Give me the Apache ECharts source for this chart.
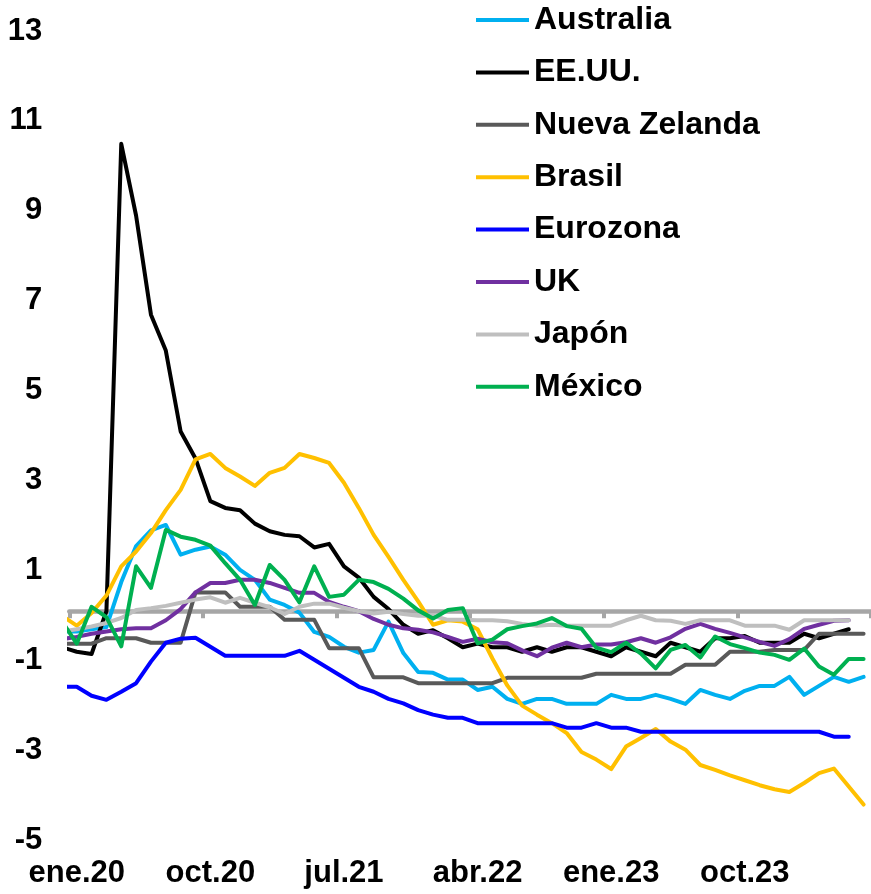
<!DOCTYPE html>
<html><head><meta charset="utf-8">
<script src="https://cdn.jsdelivr.net/npm/echarts@6/dist/echarts.min.js"></script>
<style>html,body{margin:0;padding:0;background:#fff}#c{width:871px;height:894px}</style>
</head><body><div id="c"></div><script>
// Month categories (first entry dic.19 is partly clipped by the axis start)
const months = ["dic.19",
 "ene.20","feb.20","mar.20","abr.20","may.20","jun.20","jul.20","ago.20","sep.20","oct.20","nov.20","dic.20",
 "ene.21","feb.21","mar.21","abr.21","may.21","jun.21","jul.21","ago.21","sep.21","oct.21","nov.21","dic.21",
 "ene.22","feb.22","mar.22","abr.22","may.22","jun.22","jul.22","ago.22","sep.22","oct.22","nov.22","dic.22",
 "ene.23","feb.23","mar.23","abr.23","may.23","jun.23","jul.23","ago.23","sep.23","oct.23","nov.23","dic.23",
 "ene.24","feb.24","mar.24","abr.24","may.24","jun.24"];

const yTicks = [-5, -3, -1, 1, 3, 5, 7, 9, 11, 13];

const australia = [-0.45,
 -0.45,-0.4,-0.35,0.65,1.45,1.8,1.92,1.26,1.37,1.44,1.26,0.92,
 0.7,0.26,0.14,-0.03,-0.46,-0.57,-0.79,-0.92,-0.86,-0.23,-0.93,-1.35,
 -1.37,-1.52,-1.52,-1.75,-1.68,-1.95,-2.06,-1.95,-1.95,-2.06,-2.06,-2.06,
 -1.86,-1.95,-1.95,-1.86,-1.95,-2.06,-1.75,-1.86,-1.95,-1.77,-1.66,-1.66,
 -1.46,-1.86,-1.66,-1.46,-1.57,-1.46];
const eeuu = [-0.8,
 -0.9,-0.95,0.0,10.4,8.8,6.6,5.8,4.0,3.4,2.45,2.3,2.25,
 1.95,1.78,1.7,1.67,1.42,1.5,1.0,0.75,0.32,0.05,-0.3,-0.5,
 -0.42,-0.6,-0.8,-0.72,-0.8,-0.8,-0.9,-0.8,-0.9,-0.8,-0.8,-0.9,
 -1.0,-0.8,-0.9,-1.0,-0.7,-0.8,-0.9,-0.6,-0.6,-0.55,-0.7,-0.7,
 -0.7,-0.5,-0.6,-0.5,-0.4,null];
const nuevaZelanda = [-0.72,
 -0.72,-0.72,-0.6,-0.6,-0.6,-0.7,-0.7,-0.7,0.42,0.42,0.42,0.1,
 0.1,0.1,-0.19,-0.19,-0.19,-0.82,-0.82,-0.82,-1.47,-1.47,-1.47,-1.6,
 -1.6,-1.6,-1.6,-1.6,-1.6,-1.48,-1.48,-1.48,-1.48,-1.48,-1.48,-1.39,
 -1.39,-1.39,-1.39,-1.39,-1.39,-1.19,-1.19,-1.19,-0.9,-0.9,-0.9,-0.86,
 -0.86,-0.86,-0.5,-0.5,-0.5,-0.5];
const brasil = [-0.1,
 -0.32,-0.04,0.35,1.0,1.33,1.74,2.25,2.7,3.38,3.5,3.19,3.0,
 2.79,3.08,3.19,3.5,3.41,3.3,2.86,2.3,1.7,1.21,0.7,0.22,
 -0.3,-0.2,-0.23,-0.4,-1.05,-1.65,-2.1,-2.3,-2.49,-2.71,-3.13,-3.3,
 -3.51,-3.01,-2.82,-2.62,-2.9,-3.08,-3.42,-3.53,-3.65,-3.76,-3.87,-3.96,
 -4.02,-3.82,-3.6,-3.5,-3.9,-4.3];
const eurozona = [-1.68,
 -1.68,-1.88,-1.97,-1.79,-1.6,-1.12,-0.7,-0.61,-0.59,-0.79,-0.99,-0.99,
 -0.99,-0.99,-0.99,-0.88,-1.08,-1.28,-1.48,-1.68,-1.79,-1.95,-2.05,-2.2,
 -2.3,-2.37,-2.37,-2.49,-2.49,-2.49,-2.49,-2.49,-2.49,-2.59,-2.59,-2.49,
 -2.59,-2.59,-2.68,-2.68,-2.68,-2.68,-2.68,-2.68,-2.68,-2.68,-2.68,-2.68,
 -2.68,-2.68,-2.68,-2.79,-2.79,null];
const uk = [-0.62,
 -0.57,-0.5,-0.45,-0.4,-0.38,-0.38,-0.2,0.05,0.42,0.63,0.63,0.7,
 0.7,0.63,0.52,0.41,0.41,0.21,0.1,0.0,-0.17,-0.3,-0.38,-0.41,
 -0.47,-0.57,-0.68,-0.61,-0.69,-0.71,-0.87,-1.0,-0.81,-0.7,-0.8,-0.74,
 -0.74,-0.69,-0.6,-0.7,-0.58,-0.39,-0.28,-0.39,-0.48,-0.58,-0.68,-0.77,
 -0.62,-0.39,-0.3,-0.21,-0.2,null];
const japon = [-0.45,
 -0.4,-0.34,-0.26,-0.15,0.03,0.07,0.12,0.19,0.26,0.31,0.19,0.3,
 0.19,0.09,-0.06,0.1,0.17,0.17,0.08,0.0,-0.05,-0.01,-0.06,-0.1,
 -0.1,-0.19,-0.19,-0.2,-0.2,-0.22,-0.28,-0.32,-0.3,-0.32,-0.32,-0.32,
 -0.32,-0.2,-0.1,-0.2,-0.21,-0.28,-0.2,-0.2,-0.2,-0.32,-0.32,-0.32,
 -0.41,-0.2,-0.2,-0.2,-0.2,null];
const mexico = [-0.22,
 -0.72,0.1,-0.13,-0.78,1.0,0.52,1.81,1.66,1.59,1.46,1.07,0.7,
 0.14,1.03,0.7,0.2,1.0,0.32,0.37,0.7,0.65,0.5,0.28,0.02,
 -0.16,0.03,0.07,-0.71,-0.63,-0.4,-0.33,-0.27,-0.15,-0.33,-0.39,-0.81,
 -0.91,-0.7,-0.94,-1.27,-0.86,-0.75,-1.03,-0.56,-0.73,-0.82,-0.92,-0.97,
 -1.08,-0.83,-1.23,-1.41,-1.06,-1.06];

const seriesNames = ["Australia","EE.UU.","Nueva Zelanda","Brasil","Eurozona","UK","Japón","México"];
const seriesValues = [australia, eeuu, nuevaZelanda, brasil, eurozona, uk, japon, mexico];
const seriesColors = ["#00B0F0","#000000","#595959","#FFC000","#0000FF","#7030A0","#BFBFBF","#00B050"];

const FONT = '"Liberation Sans", Arial, sans-serif';
const labelMonths = months.slice(1);

const chart = echarts.init(document.getElementById('c'), null, {renderer: 'canvas'});
const series = seriesNames.map((name, k) => ({
  name: name,
  type: 'line',
  xAxisIndex: 0,
  symbol: 'none',
  clip: true,
  smooth: false,
  data: seriesValues[k].map((v, i) => [i - 1, v]),
  lineStyle: {color: seriesColors[k], width: 4, cap: 'round', join: 'round'},
  itemStyle: {color: seriesColors[k]},
  emphasis: {disabled: true}
}));

chart.setOption({
  animation: false,
  backgroundColor: '#ffffff',
  grid: {left: 69.3, top: 27, width: 804, height: 809, containLabel: false},
  legend: {
    orient: 'vertical', left: 476, top: 2, padding: 0,
    itemWidth: 53, itemHeight: 4, itemGap: 16.4, icon: 'rect',
    selectedMode: false,
    textStyle: {fontFamily: FONT, fontWeight: 'bold', fontSize: 32, color: '#000', lineHeight: 36},
    data: seriesNames
  },
  xAxis: [
    {
      type: 'value', min: -0.5, max: 53.5, interval: 9,
      axisLine: {show: true, onZero: true, lineStyle: {color: '#A6A6A6', width: 4.5}},
      axisTick: {show: true, length: 7, lineStyle: {color: '#A6A6A6', width: 4}},
      axisLabel: {show: false},
      splitLine: {show: false}
    },
    {
      type: 'category', data: labelMonths, boundaryGap: true, position: 'bottom',
      axisLine: {show: false, onZero: false},
      axisTick: {show: false},
      splitLine: {show: false},
      axisLabel: {interval: 8, margin: 22, fontFamily: FONT, fontWeight: 'bold', fontSize: 31, color: '#000'}
    }
  ],
  yAxis: {
    type: 'value', min: yTicks[0], max: yTicks[yTicks.length - 1], interval: 2,
    axisLine: {show: false}, axisTick: {show: false}, splitLine: {show: false},
    axisLabel: {margin: 27, verticalAlign: 'top', lineHeight: 8, fontFamily: FONT, fontWeight: 'bold', fontSize: 31, color: '#000'}
  },
  series: series
});
</script></body></html>
